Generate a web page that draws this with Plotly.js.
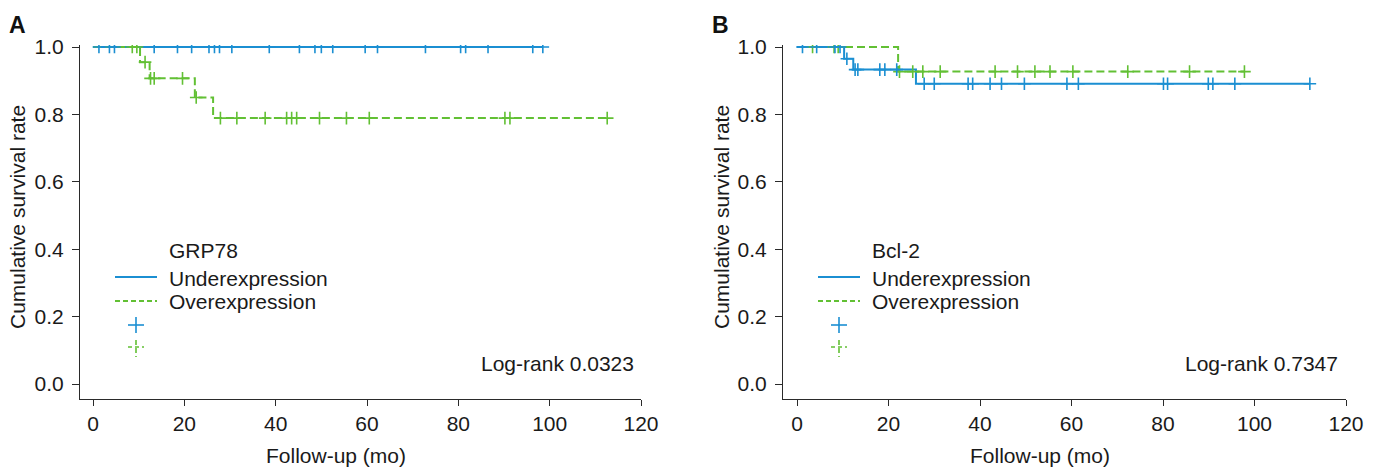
<!DOCTYPE html>
<html><head><meta charset="utf-8">
<script src="https://cdn.plot.ly/plotly-3.0.1.min.js"></script>
<style>html,body{margin:0;padding:0;background:#fff}</style>
</head><body><div id="chart" style="width:1375px;height:467px"></div>
<script>
// ---------- data ----------
// Panel A: GRP78
const aUnderTimes = [0];
const aUnderSurv = [1.0];
const aUnderCensor = [1.3,3.6,4.7,13.4,18.5,21.6,25.4,26.6,27.7,30.4,38.6,45.2,48.6,50.0,52.5,59.6,62.3,72.8,80.5,81.6,86.5,96.3,98.5];
const aOverTimes = [0,10.3,12.4,22.3,26.3];
const aOverSurv = [1.0,0.955,0.907,0.850,0.789];
const aOverCensor = [8.6,9.6,11.4,12.6,13.4,19.6,22.6,27.9,31.5,37.7,42.4,43.5,44.6,49.6,55.5,60.5,90.2,91.3,112.6];
// Panel B: Bcl-2
const bUnderTimes = [0,10.3,12.3,26.0];
const bUnderSurv = [1.0,0.965,0.933,0.891];
const bUnderCensor = [1.2,4.3,8.3,9.4,10.9,12.7,13.3,18.1,19.2,21.8,27.8,30.0,37.4,38.4,42.2,44.7,49.7,59.0,61.5,80.1,81.0,89.9,90.9,95.7,112.1];
const bOverTimes = [0,22.1];
const bOverSurv = [1.0,0.927];
const bOverCensor = [3.4,8.1,9.0,22.4,25.3,27.5,31.3,43.3,48.2,52.0,55.3,60.3,72.3,85.8,97.8];

const xTicks = [0,20,40,60,80,100,120];
const yTicks = [0.0,0.2,0.4,0.6,0.8,1.0];
const yTickText = ['0.0','0.2','0.4','0.6','0.8','1.0'];
const seriesNames = ['Underexpression','Overexpression'];
const panelTitles = ['GRP78','Bcl-2'];
const panelLetters = ['A','B'];
const logRank = ['Log-rank 0.0323','Log-rank 0.7347'];
const xTitle = 'Follow-up (mo)';
const yTitle = 'Cumulative survival rate';

// ---------- styling ----------
const W = 1375, H = 467;
const BLUE = '#1b8fd2', GREEN = '#62c034', INK = '#1a1a1a', AXC = '#2a2a2a';
const FONT = 'Liberation Sans, Arial, sans-serif';
const FS = 21;

function survAt(times, surv, t){
  let s = surv[0];
  for (let i=0;i<times.length;i++){ if (times[i] <= t) s = surv[i]; }
  return s;
}
function lineTrace(times, surv, censor, xa, ya, color, dash){
  const end = Math.max(times[times.length-1], Math.max(...censor));
  return {x: times.concat([end]), y: surv.concat([surv[surv.length-1]]),
    xaxis: xa, yaxis: ya, mode:'lines', type:'scatter', hoverinfo:'skip', showlegend:false,
    line:{shape:'hv', color: color, width: 2, dash: dash}};
}
function censorTrace(times, surv, censor, xa, ya, color){
  return {x: censor, y: censor.map(t => survAt(times, surv, t)),
    xaxis: xa, yaxis: ya, mode:'markers', type:'scatter', hoverinfo:'skip', showlegend:false,
    marker:{symbol:'cross-thin', size:9, line:{color: color, width:1.6}}};
}
const DASH = '8px,4px';
const traces = [
  lineTrace(aUnderTimes, aUnderSurv, aUnderCensor, 'x', 'y', BLUE, 'solid'),
  lineTrace(aOverTimes, aOverSurv, aOverCensor, 'x', 'y', GREEN, DASH),
  censorTrace(aUnderTimes, aUnderSurv, aUnderCensor, 'x', 'y', BLUE),
  censorTrace(aOverTimes, aOverSurv, aOverCensor, 'x', 'y', GREEN),
  lineTrace(bOverTimes, bOverSurv, bOverCensor, 'x2', 'y2', GREEN, DASH),
  lineTrace(bUnderTimes, bUnderSurv, bUnderCensor, 'x2', 'y2', BLUE, 'solid'),
  censorTrace(bOverTimes, bOverSurv, bOverCensor, 'x2', 'y2', GREEN),
  censorTrace(bUnderTimes, bUnderSurv, bUnderCensor, 'x2', 'y2', BLUE)
];

const px = v => v / W, py = v => 1 - v / H;
const axBase = {showline:true, linecolor:AXC, linewidth:1, ticks:'outside', ticklen:7, tickwidth:1,
  tickcolor:AXC, showgrid:false, zeroline:false, fixedrange:true,
  tickfont:{family:FONT, size:FS, color:INK}};
// pixel geometry
const aPerUnit = (641-93)/120;
const bPerUnit = (1346-797)/120;
const yPerUnit = 384-47;
const AXIS_Y = 399, TOP_Y = 45;
const yBottom = -(AXIS_Y-384)/yPerUnit, yTop = 1 + (47-TOP_Y)/yPerUnit;

const layout = {
  width: W, height: H, margin:{l:0,r:0,t:0,b:0}, paper_bgcolor:'#fff', plot_bgcolor:'rgba(0,0,0,0)',
  showlegend:false,
  xaxis: Object.assign({}, axBase, {domain:[px(80), px(641)], range:[-(93-80)/aPerUnit, 120], tickvals:xTicks, anchor:'y', ticklen:6}),
  yaxis: Object.assign({}, axBase, {domain:[py(AXIS_Y), py(TOP_Y)], range:[yBottom, yTop], tickvals:yTicks, ticktext:yTickText, anchor:'x', ticklabelstandoff:4}),
  xaxis2: Object.assign({}, axBase, {domain:[px(783), px(1346)], range:[-(797-783)/bPerUnit, 120], tickvals:xTicks, anchor:'y2', ticklen:6}),
  yaxis2: Object.assign({}, axBase, {domain:[py(AXIS_Y), py(TOP_Y)], range:[yBottom, yTop], tickvals:yTicks, ticktext:yTickText, anchor:'x2', ticklabelstandoff:4}),
  annotations: [], shapes: []
};

function ann(x, y, text, opts){
  layout.annotations.push(Object.assign({xref:'paper', yref:'paper', x:px(x), y:py(y), text:text, showarrow:false,
    xanchor:'left', yanchor:'middle', font:{family:FONT, size:FS, color:INK}}, opts||{}));
}
function seg(x0,y0,x1,y1,color,width,dash){
  layout.shapes.push({type:'line', xref:'paper', yref:'paper', x0:px(x0), y0:py(y0), x1:px(x1), y1:py(y1),
    line:{color:color, width:width, dash:dash||'solid'}});
}

// panel letters
ann(17, 25, '<b>'+panelLetters[0]+'</b>', {xanchor:'center', font:{family:FONT, size:23, color:'#111'}});
ann(720, 25, '<b>'+panelLetters[1]+'</b>', {xanchor:'center', font:{family:FONT, size:23, color:'#111'}});
// axis titles
[[336,18],[1040,722]].forEach(([xc, yc]) => {
  ann(xc, 455, xTitle, {xanchor:'center'});
  ann(yc, 217, yTitle, {xanchor:'center', textangle:-90});
});
// legends and log-rank
[[115, 636], [818, 1340]].forEach(([lx, lr], i) => {
  ann(lx+52, 251, panelTitles[i]);
  ann(lx+52, 278, seriesNames[0]);
  ann(lx+52, 301, seriesNames[1]);
  seg(lx, 277, lx+42, 277, BLUE, 2, 'solid');
  seg(lx, 301, lx+42, 301, GREEN, 2, '5px,3px');
  const cx = lx + 21;
  seg(cx-8, 325, cx+8, 325, BLUE, 1.6);
  seg(cx, 317, cx, 333, BLUE, 1.6);
  seg(cx-8, 347, cx+8, 347, GREEN, 1.6, '4px,3px');
  seg(cx, 340, cx, 357, GREEN, 1.6, '5px,3px');
  ann(lr, 363, logRank[i], {xanchor:'right'});
});

Plotly.newPlot('chart', traces, layout, {staticPlot:true, displayModeBar:false});
</script></body></html>
